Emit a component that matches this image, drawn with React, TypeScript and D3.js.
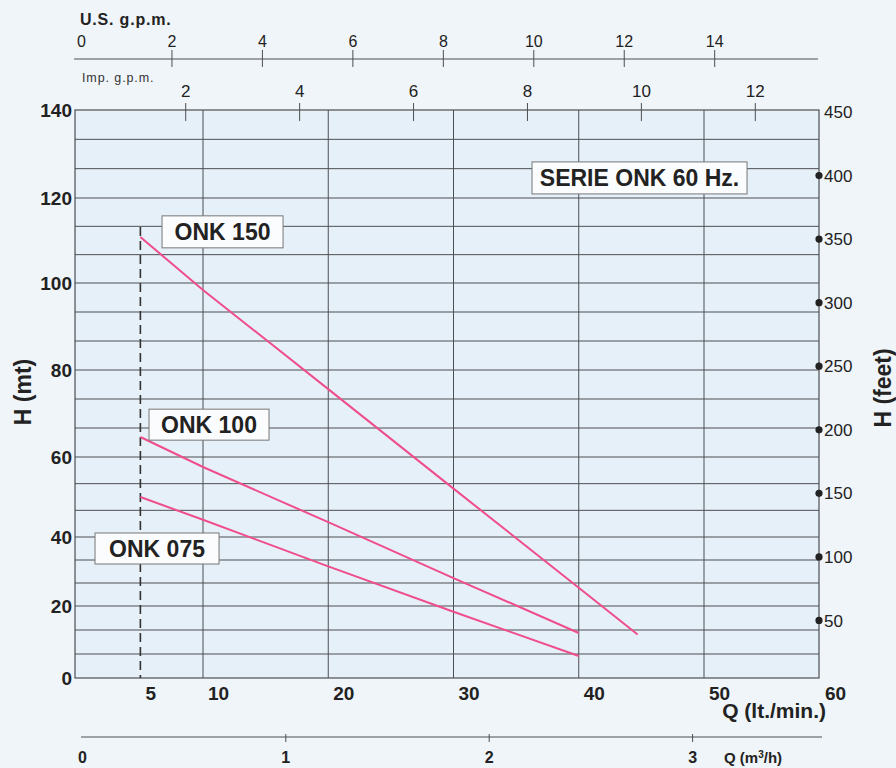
import React from "react";
import * as d3 from "d3";

// ---------------- data ----------------
const Q_TICKS = [5, 10, 20, 30, 40, 50, 60];
const Q_GRID = [10, 20, 30, 40, 50];
const H_TICKS = [0, 20, 40, 60, 80, 100, 120, 140];
const H_GRID_STEP = 20 / 3;
const FEET_TICKS = [50, 100, 150, 200, 250, 300, 350, 400, 450];
const FEET_DOTS = [50, 100, 150, 200, 250, 300, 350, 400];
const US_GPM_TICKS = [0, 2, 4, 6, 8, 10, 12, 14];
const IMP_GPM_TICKS = [2, 4, 6, 8, 10, 12];
const M3H_TICKS = [0, 1, 2, 3];

const SERIES_NAMES = ["ONK 150", "ONK 100", "ONK 075"];
const ONK150_Q = [5, 10, 20, 30, 40, 44.7];
const ONK150_H = [110.8, 98.4, 75.6, 52.1, 25.3, 12.1];
const ONK100_Q = [5, 10, 20, 30, 40];
const ONK100_H = [64.6, 57.5, 43.7, 28.1, 12.5];
const ONK075_Q = [5, 10, 20, 30, 40];
const ONK075_H = [50.0, 44.3, 31.5, 18.4, 6.1];
const MIN_FLOW_Q = 5;
const MIN_FLOW_TOP_H = 113.2;
const TITLE = "SERIE ONK 60 Hz.";

// ---------------- layout ----------------
const W = 896;
const H = 768;
const PLOT_LEFT = 75;
const PLOT_RIGHT = 819;
// printed chart is slightly distorted vertically: piecewise-linear metre scale
const Y_STOPS_PX = [678, 606, 537, 457, 370, 283, 198, 110];
const X_RANGE_PX = [77.75, 829.25];
const FEET_RANGE_PX = [684, 112];
const US_RANGE_PX = [81.5, 714.7];
const IMP_RANGE_PX = [71.8, 755.3];
const M3H_RANGE_PX = [82.4, 692.6];

const FONT = "'Liberation Sans', Arial, Helvetica, sans-serif";
const INK = "#222";
const GRID = "#4d4f52";
const PINK = "#ef4d8c";
const PAGE_BG = "#f0f5f9";
const PLOT_BG = "#e6f0f8";

// label boxes anchored in data units (top-left corner), sizes in px
const LABEL_BOXES = [
  { text: SERIES_NAMES[0], q: 6.73, h: 115.8, w: 121, hgt: 32 },
  { text: SERIES_NAMES[1], q: 5.69, h: 71.0, w: 120, hgt: 31 },
  { text: SERIES_NAMES[2], q: 1.38, h: 41.0, w: 124, hgt: 31 },
  { text: TITLE, q: 36.27, h: 128.2, w: 215, hgt: 32 },
];

export default function App() {
  const x = d3.scaleLinear().domain([0, 60]).range(X_RANGE_PX);
  const y = d3.scaleLinear().domain(H_TICKS).range(Y_STOPS_PX);
  const yFeet = d3.scaleLinear().domain([0, 450]).range(FEET_RANGE_PX);
  const xUS = d3.scaleLinear().domain([0, 14]).range(US_RANGE_PX);
  const xImp = d3.scaleLinear().domain([0, 12]).range(IMP_RANGE_PX);
  const xM3 = d3.scaleLinear().domain([0, 3]).range(M3H_RANGE_PX);

  const plotTop = y(140);
  const plotBottom = y(0);

  const line = d3
    .line<[number, number]>()
    .x((d) => x(d[0]))
    .y((d) => y(d[1]));

  const series = [
    d3.zip(ONK150_Q, ONK150_H) as [number, number][],
    d3.zip(ONK100_Q, ONK100_H) as [number, number][],
    d3.zip(ONK075_Q, ONK075_H) as [number, number][],
  ];

  const hGrid = d3.range(1, 21).map((k) => k * H_GRID_STEP);

  return (
    <svg
      width={W}
      height={H}
      viewBox={`0 0 ${W} ${H}`}
      style={{ position: "absolute", left: 0, top: 0, fontFamily: FONT }}
    >
      <rect x={0} y={0} width={W} height={H} fill={PAGE_BG} />
      <rect
        x={PLOT_LEFT}
        y={plotTop}
        width={PLOT_RIGHT - PLOT_LEFT}
        height={plotBottom - plotTop}
        fill={PLOT_BG}
      />

      {/* horizontal grid */}
      {hGrid.map((v, i) => (
        <line
          key={"hg" + i}
          x1={PLOT_LEFT}
          x2={PLOT_RIGHT}
          y1={y(v)}
          y2={y(v)}
          stroke={GRID}
          strokeWidth={1}
        />
      ))}
      {/* vertical grid */}
      {Q_GRID.map((v) => (
        <line
          key={"vg" + v}
          x1={x(v)}
          x2={x(v)}
          y1={plotTop}
          y2={plotBottom}
          stroke={GRID}
          strokeWidth={1}
        />
      ))}
      {/* frame */}
      <rect
        x={PLOT_LEFT}
        y={plotTop}
        width={PLOT_RIGHT - PLOT_LEFT}
        height={plotBottom - plotTop}
        fill="none"
        stroke={GRID}
        strokeWidth={1.2}
      />

      {/* minimum flow dashed line */}
      <line
        x1={x(MIN_FLOW_Q)}
        x2={x(MIN_FLOW_Q)}
        y1={y(MIN_FLOW_TOP_H)}
        y2={plotBottom}
        stroke="#333"
        strokeWidth={1.6}
        strokeDasharray="9,5"
      />

      {/* curves */}
      {series.map((s, i) => (
        <path
          key={"s" + i}
          d={line(s) || ""}
          fill="none"
          stroke={PINK}
          strokeWidth={2}
        />
      ))}

      {/* label boxes */}
      {LABEL_BOXES.map((b) => (
        <g key={b.text}>
          <rect
            x={x(b.q)}
            y={y(b.h)}
            width={b.w}
            height={b.hgt}
            fill="#fbfcfd"
            stroke="#777"
            strokeWidth={1}
          />
          <text
            x={x(b.q) + b.w / 2}
            y={y(b.h) + b.hgt / 2}
            dy="0.36em"
            textAnchor="middle"
            fontWeight="bold"
            fontSize={23}
            fill={INK}
          >
            {b.text}
          </text>
        </g>
      ))}

      {/* left axis labels */}
      {H_TICKS.map((v) => (
        <text
          key={"hl" + v}
          x={PLOT_LEFT - 3}
          y={y(v)}
          dy="0.36em"
          textAnchor="end"
          fontWeight="bold"
          fontSize={19}
          fill={INK}
        >
          {v}
        </text>
      ))}
      <text
        transform={`translate(31, ${(plotTop + plotBottom) / 2 - 2}) rotate(-90)`}
        textAnchor="middle"
        fontWeight="bold"
        fontSize={23}
        fill={INK}
      >
        H (mt)
      </text>

      {/* right feet axis */}
      {FEET_DOTS.map((v) => (
        <circle key={"fd" + v} cx={PLOT_RIGHT} cy={yFeet(v)} r={3.6} fill={INK} />
      ))}
      {FEET_TICKS.map((v) => (
        <text
          key={"fl" + v}
          x={PLOT_RIGHT + 5}
          y={yFeet(v)}
          dy="0.36em"
          fontSize={17}
          fill={INK}
        >
          {v}
        </text>
      ))}
      <text
        transform={`translate(891, ${(plotTop + plotBottom) / 2 - 6}) rotate(-90)`}
        textAnchor="middle"
        fontWeight="bold"
        fontSize={23}
        fill={INK}
      >
        H (feet)
      </text>

      {/* bottom Q (lt/min) labels */}
      {Q_TICKS.map((v) => (
        <text
          key={"ql" + v}
          x={Math.min(x(v) + 5, PLOT_RIGHT + 6)}
          y={700}
          fontWeight="bold"
          fontSize={19}
          fill={INK}
        >
          {v}
        </text>
      ))}
      <text
        x={826}
        y={718}
        textAnchor="end"
        fontWeight="bold"
        fontSize={21}
        fill={INK}
      >
        Q (lt./min.)
      </text>

      {/* bottom m3/h axis */}
      <line x1={81} x2={822} y1={737} y2={737} stroke={GRID} strokeWidth={1.2} />
      {M3H_TICKS.filter((v) => v > 0).map((v) => (
        <line
          key={"mt" + v}
          x1={xM3(v)}
          x2={xM3(v)}
          y1={734}
          y2={742}
          stroke={GRID}
          strokeWidth={1}
        />
      ))}
      {M3H_TICKS.map((v) => (
        <text
          key={"ml" + v}
          x={xM3(v)}
          y={763}
          textAnchor="middle"
          fontWeight="bold"
          fontSize={16}
          fill={INK}
        >
          {v}
        </text>
      ))}
      <text x={724} y={763} fontWeight="bold" fontSize={15} fill={INK}>
        Q (m
        <tspan fontSize={10} dy={-5}>
          3
        </tspan>
        <tspan dy={5}>/h)</tspan>
      </text>

      {/* top U.S. g.p.m. axis */}
      <text x={80} y={25} fontWeight="bold" fontSize={16} letterSpacing={0.8} fill={INK}>
        U.S. g.p.m.
      </text>
      <line x1={74} x2={818} y1={59} y2={59} stroke={GRID} strokeWidth={1.2} />
      {US_GPM_TICKS.filter((v) => v > 0).map((v) => (
        <line
          key={"ut" + v}
          x1={xUS(v)}
          x2={xUS(v)}
          y1={50}
          y2={67}
          stroke={GRID}
          strokeWidth={1}
        />
      ))}
      {US_GPM_TICKS.map((v) => (
        <text
          key={"ul" + v}
          x={xUS(v)}
          y={47}
          textAnchor="middle"
          fontSize={16}
          fill={INK}
        >
          {v}
        </text>
      ))}

      {/* top Imp. g.p.m. axis */}
      <text x={82} y={82} fontSize={12.5} letterSpacing={0.9} fill="#333">
        Imp. g.p.m.
      </text>
      {IMP_GPM_TICKS.map((v) => (
        <line
          key={"it" + v}
          x1={xImp(v)}
          x2={xImp(v)}
          y1={103}
          y2={121}
          stroke={GRID}
          strokeWidth={1}
        />
      ))}
      {IMP_GPM_TICKS.map((v) => (
        <text
          key={"il" + v}
          x={xImp(v)}
          y={97}
          textAnchor="middle"
          fontSize={17}
          fill={INK}
        >
          {v}
        </text>
      ))}
    </svg>
  );
}
